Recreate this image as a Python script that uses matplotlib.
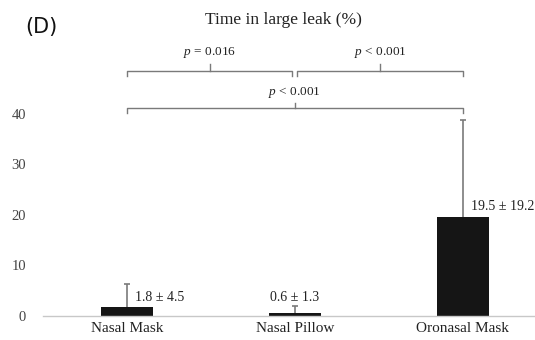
import numpy as np
import matplotlib.pyplot as plt

# time in large leak per mask type (mean and SD)
masks = ['Nasal Mask', 'Nasal Pillow', 'Oronasal Mask']
mean = [1.8, 0.6, 19.5]
sd = [4.5, 1.3, 19.2]
yticks = [0, 10, 20, 30, 40]

# comparisons: (left bar, right bar, height, text)
pairs = [(0, 1, 48.5, '= 0.016'), (1, 2, 48.5, '< 0.001'), (0, 2, 41.2, '< 0.001')]

serif = 'Liberation Serif'
plt.rcParams['mathtext.fontset'] = 'custom'
plt.rcParams['mathtext.it'] = 'Liberation Serif:italic'
plt.rcParams['mathtext.rm'] = 'Liberation Serif'

fig = plt.figure(figsize=(5.35, 3.4), dpi=100)
ax = fig.add_axes([0.080, 0.0706, 0.92, 0.773])

x = np.arange(len(masks))
ax.bar(x, mean, width=0.31, color='#151515', zorder=2)

# upper error bars only
top = np.array(mean) + np.array(sd)
ax.vlines(x, mean, top, color='#7a7a7a', lw=1.2, zorder=1)
ax.plot(x, top, ls='none', marker='_', ms=5, mew=1.2, color='#7a7a7a')

# value labels: pillow label sits centred above its cap
for i in range(len(masks)):
    s = f'{mean[i]} ± {sd[i]}'
    if i == 1:
        ax.text(x[i], top[i] + 0.4, s, fontsize=10, family=serif,
                color='#222222', va='bottom', ha='center')
    else:
        off = 0.9 if mean[i] > 10 else 0.6
        ax.text(x[i] + 0.05, mean[i] + off, s, fontsize=10, family=serif,
                color='#222222', va='bottom', ha='left')

ax.set_xlim(-0.5, 2.43)
ax.set_ylim(0, 52)
ax.set_yticks(yticks)
ax.set_xticks(x)
ax.set_xticklabels(masks, family=serif, fontsize=11, color='#222222')
for lab in ax.get_yticklabels():
    lab.set_family(serif)
    lab.set_fontsize(10.5)
    lab.set_color('#444444')
ax.tick_params(length=0, pad=4)
ax.tick_params(axis='y', pad=12)

for s in ['top', 'right', 'left']:
    ax.spines[s].set_visible(False)
ax.spines['bottom'].set_color('#c8c8c8')
ax.spines['bottom'].set_linewidth(1.0)

# brackets between bar centres
bc = '#7a7a7a'
for a, b, h, txt in pairs:
    xa = a + 0.015 if a == 1 else a
    xb = b - 0.015 if b == 1 else b
    ax.plot([xa, xa, xb, xb], [h - 1.1, h, h, h - 1.1], color=bc, lw=1.0,
            clip_on=False, solid_joinstyle='round')
    mid = (xa + xb) / 2
    tick = 1.4 if h > 45 else 0.9
    ax.plot([mid, mid], [h, h + tick], color=bc, lw=1.0, clip_on=False)
    ax.text(mid, h + tick + 0.7, r'$p$ ' + txt, fontsize=9.5, family=serif,
            ha='center', va='bottom', color='#222222')

fig.text(0.529, 0.942, 'Time in large leak (%)', family=serif, fontsize=12.5,
         ha='center', va='center', color='#222222')
fig.text(0.047, 0.922, '(D)', fontsize=15, ha='left', va='center', color='#111111')

fig.savefig('out.png', dpi=100)
